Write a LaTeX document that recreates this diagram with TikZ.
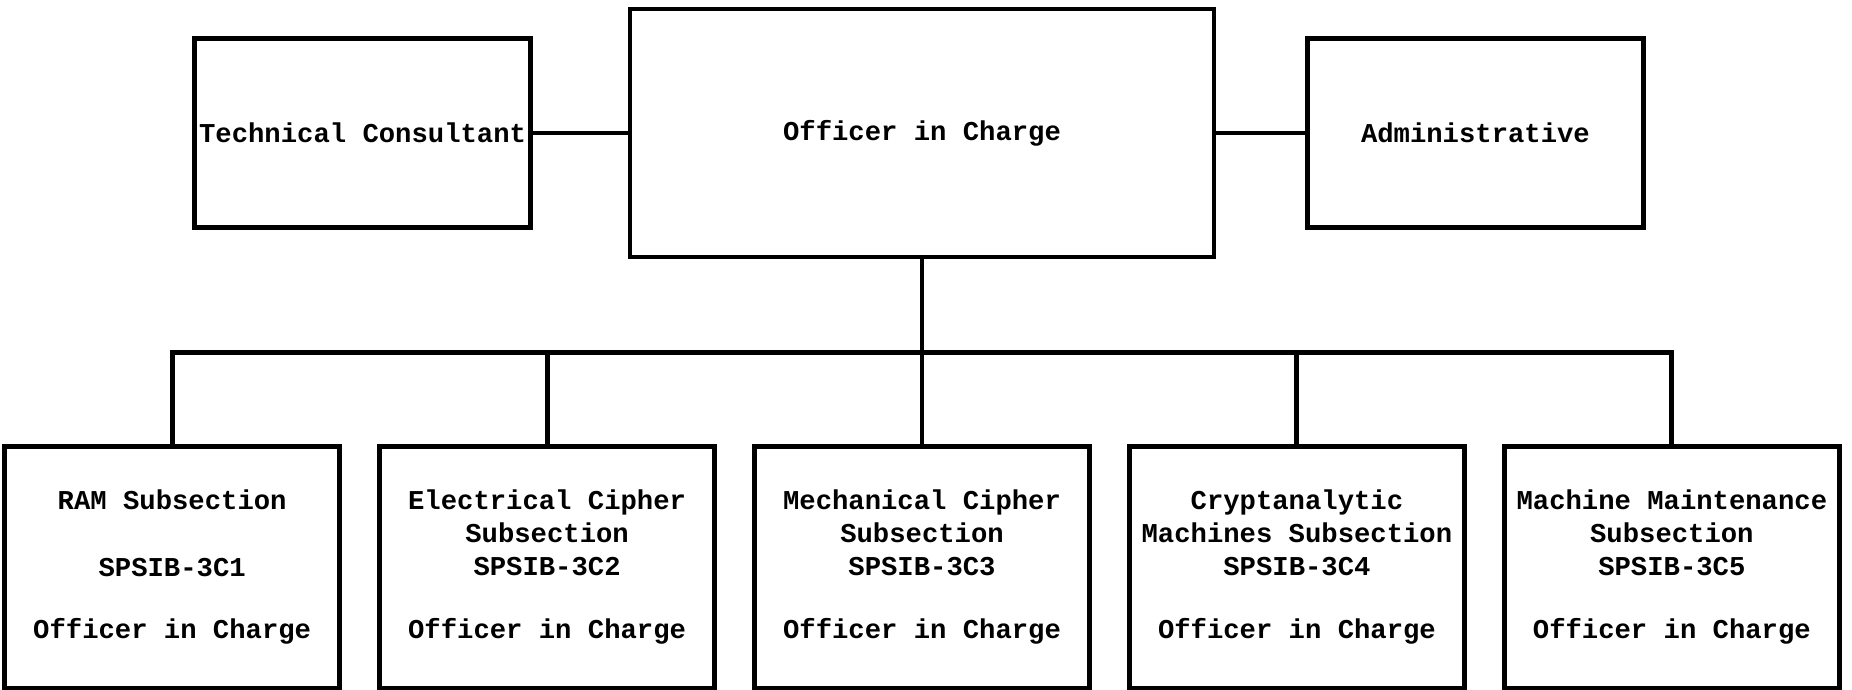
\documentclass[tikz,border=0pt]{standalone}
\usepackage{fontspec}
\newfontfamily\typewriter{Liberation Mono}
\usetikzlibrary{positioning}

\begin{document}
\begin{tikzpicture}[
  font=\typewriter\bfseries\fontsize{15.5}{18.8}\selectfont,
  unit/.style={draw,line width=2.8pt,inner sep=0pt,align=center},
  chief/.style={unit,minimum width=11.68cm,minimum height=4.96cm},
  staff/.style={unit,minimum width=6.72cm,minimum height=3.78cm},
  subsec/.style={unit,minimum width=6.7cm,minimum height=4.84cm},
  link/.style={line width=2.8pt,line cap=rect}]
  \useasboundingbox (0,0) rectangle (37.04,-13.8);
  \node[chief] (oic) at (18.44,-2.66) {Officer in Charge};
  \node[staff,left=1.89cm of oic] (tech) {Technical Consultant};
  \node[staff,right=1.77cm of oic] (admin) {Administrative};
  \node[subsec,below=3.69cm of oic] (s3) {Mechanical Cipher\\Subsection\\SPSIB-3C3\\[0.6cm]Officer in Charge};
  \node[subsec,left=0.7cm of s3] (s2) {Electrical Cipher\\Subsection\\SPSIB-3C2\\[0.6cm]Officer in Charge};
  \node[subsec,left=0.7cm of s2] (s1) {RAM Subsection\\[0.68cm]SPSIB-3C1\\[0.58cm]Officer in Charge};
  \node[subsec,right=0.7cm of s3] (s4) {Cryptanalytic\\Machines Subsection\\SPSIB-3C4\\[0.6cm]Officer in Charge};
  \node[subsec,right=0.7cm of s4] (s5) {Machine Maintenance\\Subsection\\SPSIB-3C5\\[0.6cm]Officer in Charge};
  \coordinate[below=1.86cm of oic.south] (bus);
  \draw[link] (tech) -- (oic);
  \draw[link] (oic) -- (admin);
  \draw[link] (oic) -- (bus);
  \draw[link] (s1.north |- bus) -- (s5.north |- bus);
  \foreach \s in {s1,s2,s3,s4,s5}
     \draw[link] (\s.north |- bus) -- (\s);
\end{tikzpicture}
\end{document}
